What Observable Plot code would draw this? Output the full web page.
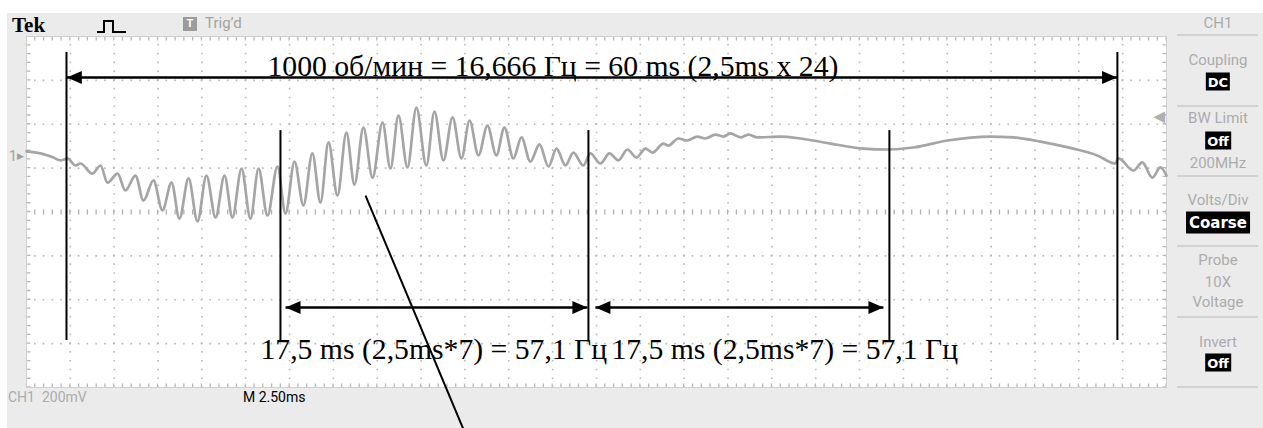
<!DOCTYPE html>
<html><head><meta charset="utf-8">
<script src="https://cdn.jsdelivr.net/npm/d3@7"></script>
<script src="https://cdn.jsdelivr.net/npm/@observablehq/plot@0.6"></script>
<style>
html,body{margin:0;padding:0;background:#fff}
body{width:1263px;height:428px;overflow:hidden;position:relative;font-family:Roboto,sans-serif}
#bezel{position:absolute;left:7px;top:13px;width:1256px;height:415px;background:#ebebeb}
#chart{position:absolute;left:0;top:0}
.ui{position:absolute;white-space:nowrap;line-height:1}
.c{position:absolute;left:1218px;transform:translate(-50%,-50%);white-space:nowrap;color:#ababab;font-size:15px;line-height:1}
.box{background:#000;color:#fff;font-family:"DejaVu Sans";font-weight:bold;font-size:13px;padding:2px 2px 1px 2px}
.sep{position:absolute;left:1177px;width:81px;height:2px;background:#d2d2d2}
</style></head>
<body>
<div id="bezel"></div>
<div id="chart"></div>
<!-- top bar -->
<div class="ui" style="left:12px;top:15px;font:bold 21px 'Liberation Serif';color:#000;line-height:21px">Tek</div>
<svg class="ui" style="left:95px;top:18px" width="34" height="18"><path d="M2,14H9V3H18V14H31" fill="none" stroke="#000" stroke-width="2"/></svg>
<div class="ui" style="left:183px;top:17px;width:14px;height:14px;background:#9c9c9c;color:#fff;font:bold 11px Roboto;text-align:center;line-height:14px">T</div>
<div class="ui" style="left:205px;top:16px;color:#a2a2a2;font-size:15px">Trig’d</div>
<!-- right panel -->
<div class="c" style="top:23px">CH1</div>
<div class="sep" style="top:34px"></div>
<div class="c" style="top:60px">Coupling</div>
<div class="c" style="top:82px"><span class="box">DC</span></div>
<div class="sep" style="top:105px"></div>
<div class="c" style="top:118px">BW Limit</div>
<div class="c" style="top:141px"><span class="box">Off</span></div>
<div class="c" style="top:163px">200MHz</div>
<div class="sep" style="top:175px"></div>
<div class="c" style="top:200px">Volts/Div</div>
<div class="c" style="top:223px"><span class="box" style="font-size:15px;padding:2px 3px">Coarse</span></div>
<div class="sep" style="top:245px"></div>
<div class="c" style="top:260px">Probe</div>
<div class="c" style="top:282px">10X</div>
<div class="c" style="top:302px">Voltage</div>
<div class="sep" style="top:316px"></div>
<div class="c" style="top:342px">Invert</div>
<div class="c" style="top:363px"><span class="box">Off</span></div>
<div class="sep" style="top:386px"></div>
<!-- bottom -->
<div class="ui" style="left:8px;top:390px;color:#acacac;font-size:14px">CH1&nbsp;&nbsp;200mV</div>
<div class="ui" style="left:243px;top:390px;color:#000;font-size:14px">M 2.50ms</div>
<!-- markers -->
<div class="ui" style="left:9px;top:149px;color:#a0a0a0;font-size:14px">1<span style="font-size:9px;vertical-align:2px">▶</span></div>
<div class="ui" style="left:1154px;top:109px;color:#b0b0b0;font-size:14px;font-weight:bold">◀</div>
<script>
// ---- waveform samples (time in ms, voltage in V, 0 = centre line)
const timeMs = [0,0.80,1.54,1.94,2.34,2.79,3.08,3.76,4.22,4.62,
5.19,5.64,6.21,6.67,7.24,7.75,8.27,8.72,9.24,9.75,
10.26,10.78,11.29,11.74,12.26,12.77,13.23,13.74,14.31,14.77,
15.28,15.79,16.30,16.76,17.22,17.73,18.24,18.70,19.21,19.73,
20.30,20.75,21.21,21.72,22.23,22.80,23.26,23.77,24.29,24.80,
25.26,25.77,26.28,26.79,27.25,27.76,28.22,28.73,29.25,29.76,
30.22,30.73,31.18,31.75,32.15,32.72,33.24,33.75,34.26,34.78,
35.29,35.69,36.32,36.60,37.17,37.68,38.25,38.71,39.28,39.74,
40.14,40.71,41.16,41.68,42.99,44.13,45.84,47.72,49.09,50.57,
52.51,54.96,56.27,57.81,59.69,61.06,62.08,62.26,63.11,63.62,
64.19,64.65,65.0];
const volts = [0.276,0.267,0.248,0.235,0.244,0.212,0.221,0.175,0.212,0.134,
0.175,0.098,0.166,0.052,0.144,0.007,0.134,-0.030,0.153,-0.043,
0.166,-0.025,0.166,-0.025,0.198,-0.030,0.198,-0.016,0.207,-0.007,
0.230,0.030,0.267,0.043,0.317,0.075,0.362,0.125,0.385,0.157,
0.408,0.198,0.440,0.203,0.476,0.212,0.458,0.235,0.431,0.244,
0.417,0.258,0.394,0.258,0.385,0.244,0.340,0.230,0.308,0.207,
0.289,0.212,0.271,0.212,0.267,0.221,0.267,0.235,0.285,0.248,
0.289,0.271,0.312,0.303,0.335,0.326,0.344,0.335,0.353,0.344,
0.358,0.340,0.353,0.340,0.344,0.335,0.312,0.289,0.285,0.294,
0.326,0.344,0.340,0.321,0.289,0.258,0.221,0.244,0.189,0.226,
0.157,0.203,0.166];

// ---- screen graticule (2.5 ms/div, 200 mV/div)
const timeDomain = [0, 65];
const voltDomain = [-0.8, 0.8];
const gridTimes = d3.range(1, 26).map(k => k * 2.5);
const gridVolts = [-0.6, -0.4, -0.2, 0.2, 0.4, 0.6];

// ---- annotation marks (hand-drawn cursors)
const cursorTimes  = [2.28, 14.48, 32.04, 49.2, 62.2];
const cursorTopV   = [0.727, 0.371, 0.371, 0.371, 0.727];
const cursorBottomV = [-0.586, -0.586, -0.586, -0.586, -0.586];
const spanStart = [2.3, 14.77, 32.44];
const spanEnd   = [62.18, 31.98, 48.86];
const spanLevel = [0.613, -0.435, -0.435];
const labelText = ["1000 об/мин = 16,666 Гц = 60 ms (2,5ms x 24)",
                   "17,5 ms (2,5ms*7) = 57,1 Гц",
                   "17,5 ms (2,5ms*7) = 57,1 Гц"];
const labelTime = [13.74, 13.34, 33.35];
const labelVolt = [0.622, -0.668, -0.668];
const pointerFrom = [19.33, 0.075];
const pointerTo = [24.91, -0.99];

const trace = timeMs.map((t, i) => ({t, v: volts[i]}));
const cursors = cursorTimes.map((t, i) => ({t, top: cursorTopV[i], bottom: cursorBottomV[i]}));
const spans = spanStart.map((s, i) => ({s, e: spanEnd[i], v: spanLevel[i]}));
const labels = labelText.map((text, i) => ({text, t: labelTime[i], v: labelVolt[i]}));

const headRight = {draw(ctx) { ctx.moveTo(0, 0); ctx.lineTo(-15, -6.5); ctx.lineTo(-15, 6.5); ctx.closePath(); }};
const headLeft  = {draw(ctx) { ctx.moveTo(0, 0); ctx.lineTo(15, -6.5); ctx.lineTo(15, 6.5); ctx.closePath(); }};

const dotV = "1.6,7.175";  // vertical minor-division dots (8.775 px)
const dotH = "1.6,7.17";   // horizontal minor-division dots (8.77 px)
const gridColor = "#b9b9b9";

const chart = Plot.plot({
  width: 1263, height: 428,
  marginLeft: 26, marginRight: 97, marginTop: 36, marginBottom: 41,
  style: "background:transparent;overflow:visible;max-width:none",
  x: {domain: timeDomain, axis: null},
  y: {domain: voltDomain, axis: null},
  marks: [
    Plot.frame({fill: "white", stroke: "none"}),
    // dotted graticule
    Plot.ruleX(gridTimes, {y1: voltDomain[1], y2: voltDomain[0], stroke: gridColor, strokeWidth: 1.6, strokeDasharray: dotV, strokeDashoffset: 0.8}),
    Plot.ruleY(gridVolts, {x1: timeDomain[0], x2: timeDomain[1], stroke: gridColor, strokeWidth: 1.6, strokeDasharray: dotH, strokeDashoffset: 0.8}),
    // centre line & edge ticks
    Plot.ruleY([0], {x1: timeDomain[0], x2: timeDomain[1], stroke: "#b0b0b0", strokeWidth: 5, strokeDasharray: "1.3,7.47", strokeDashoffset: 0.65}),
    Plot.ruleY([voltDomain[1]], {x1: timeDomain[0], x2: timeDomain[1], dy: 2, stroke: "#b8b8b8", strokeWidth: 4, strokeDasharray: "1.3,7.47", strokeDashoffset: 0.65}),
    Plot.ruleY([voltDomain[0]], {x1: timeDomain[0], x2: timeDomain[1], dy: -2, stroke: "#b8b8b8", strokeWidth: 4, strokeDasharray: "1.3,7.47", strokeDashoffset: 0.65}),
    Plot.ruleX([timeDomain[0]], {y1: voltDomain[1], y2: voltDomain[0], dx: 2, stroke: "#b8b8b8", strokeWidth: 4, strokeDasharray: "1.3,7.475", strokeDashoffset: 0.65}),
    Plot.ruleX([timeDomain[1]], {y1: voltDomain[1], y2: voltDomain[0], dx: -2, stroke: "#b8b8b8", strokeWidth: 4, strokeDasharray: "1.3,7.475", strokeDashoffset: 0.65}),
    Plot.frame({stroke: "#cfcfcf", strokeWidth: 1}),
    // the trace
    Plot.line(trace, {x: "t", y: "v", stroke: "#a5a5a5", strokeWidth: 2.7, curve: "monotone-x"}),
    // annotations
    Plot.ruleX(cursors, {x: "t", y1: "top", y2: "bottom", stroke: "#000", strokeWidth: 2}),
    Plot.link(spans, {x1: "s", x2: "e", y1: "v", y2: "v", stroke: "#000", strokeWidth: 2.6}),
    Plot.dot(spans, {x: "s", y: "v", symbol: headLeft, fill: "#000", stroke: "none", r: 5}),
    Plot.dot(spans, {x: "e", y: "v", symbol: headRight, fill: "#000", stroke: "none", r: 5}),
    Plot.link([0], {x1: () => pointerFrom[0], y1: () => pointerFrom[1], x2: () => pointerTo[0], y2: () => pointerTo[1], stroke: "#000", strokeWidth: 2}),
    Plot.text(labels, {x: "t", y: "v", text: "text", textAnchor: "start", lineAnchor: "bottom", fill: "#000",
      fontFamily: "Liberation Serif, Times New Roman, serif", fontSize: 29.7})
  ]
});
document.getElementById("chart").appendChild(chart);
</script>
</body></html>
